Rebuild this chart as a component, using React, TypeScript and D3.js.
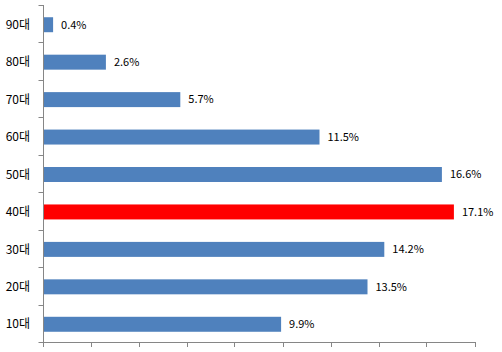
import { useEffect, useRef } from 'react';
import * as d3 from 'd3';

const categories = ['90대', '80대', '70대', '60대', '50대', '40대', '30대', '20대', '10대'];
const values = [0.4, 2.6, 5.7, 11.5, 16.6, 17.1, 14.2, 13.5, 9.9];
const highlight = '40대';
const xTicks = [0, 2, 4, 6, 8, 10, 12, 14, 16, 18];

const width = 502;
const height = 352;

export default function App() {
  const svgRef = useRef<SVGSVGElement>(null);

  useEffect(() => {
    document.body.style.margin = '0';
    if (!svgRef.current) return;
    const svg = d3.select(svgRef.current);
    svg.selectAll('*').remove();

    const left = 43.5;
    const right = 475.5;
    const top = 5;
    const bottom = 342;

    const x = d3.scaleLinear().domain([0, 18]).range([left, right]);
    const y = d3.scaleBand<string>().domain(categories).range([top, bottom]).paddingInner(0.6).paddingOuter(0.3);
    const yTick = d3.scaleBand<string>().domain(categories).range([top, bottom]);

    const axisColor = '#868686';
    const font = '"Noto Sans CJK KR", "DejaVu Sans", sans-serif';

    // bars
    svg.append('g')
      .selectAll('rect')
      .data(categories)
      .enter()
      .append('rect')
      .attr('x', left)
      .attr('y', d => (y(d) || 0) + 1)
      .attr('width', (_, i) => x(values[i]) - left)
      .attr('height', y.bandwidth())
      .attr('fill', d => (d === highlight ? '#FF0000' : '#4F81BD'));

    // left axis
    svg.append('line')
      .attr('x1', left).attr('x2', left)
      .attr('y1', top).attr('y2', bottom)
      .attr('stroke', axisColor);
    const ticksY = [...categories.map(c => yTick(c) || 0), bottom];
    svg.append('g')
      .selectAll('line')
      .data(ticksY)
      .enter()
      .append('line')
      .attr('x1', left - 5).attr('x2', left)
      .attr('y1', d => Math.round(d) + 0.5).attr('y2', d => Math.round(d) + 0.5)
      .attr('stroke', axisColor);

    // bottom axis
    svg.append('line')
      .attr('x1', left).attr('x2', right)
      .attr('y1', bottom + 0.5).attr('y2', bottom + 0.5)
      .attr('stroke', axisColor);
    svg.append('g')
      .selectAll('line')
      .data(xTicks)
      .enter()
      .append('line')
      .attr('x1', d => Math.round(x(d)) - 0.5).attr('x2', d => Math.round(x(d)) - 0.5)
      .attr('y1', bottom).attr('y2', bottom + 5)
      .attr('stroke', axisColor);

    // category labels
    svg.append('g')
      .selectAll('text')
      .data(categories)
      .enter()
      .append('text')
      .attr('x', 30)
      .attr('y', d => (yTick(d) || 0) + yTick.bandwidth() / 2 + 1)
      .attr('dy', '0.35em')
      .attr('text-anchor', 'end')
      .attr('font-family', font)
      .attr('font-size', 12)
      .attr('fill', '#000')
      .text(d => d);

    // value labels
    svg.append('g')
      .selectAll('text')
      .data(categories)
      .enter()
      .append('text')
      .attr('x', (_, i) => x(values[i]) + 8)
      .attr('y', d => (yTick(d) || 0) + yTick.bandwidth() / 2 + 1)
      .attr('dy', '0.35em')
      .attr('font-family', font)
      .attr('font-size', 11)
      .attr('fill', '#000')
      .text((_, i) => values[i].toFixed(1) + '%');
  }, []);

  return <svg ref={svgRef} width={width} height={height} style={{ display: 'block', background: '#fff' }} />;
}
